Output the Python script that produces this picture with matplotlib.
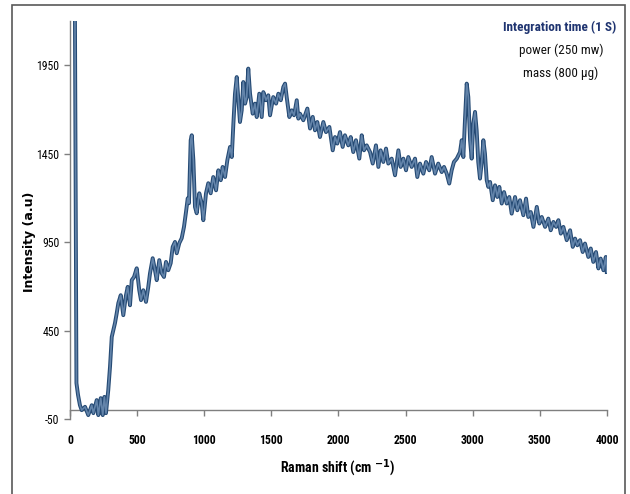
import matplotlib
matplotlib.use('Agg')
import matplotlib.pyplot as plt
from matplotlib import font_manager
from matplotlib.patches import Rectangle

plt.rcParams['axes.unicode_minus'] = False

# narrow font for tick labels and notes, fall back if missing
def pick_font(names):
    for n in names:
        try:
            font_manager.findfont(n, fallback_to_default=False)
            return n
        except Exception:
            pass
    return 'DejaVu Sans'

narrow = pick_font(['Liberation Sans Narrow', 'Roboto Condensed', 'DejaVu Sans Condensed', 'Liberation Sans'])

# Raman spectrum (shift in cm-1, intensity in a.u.)
shift = [37, 48, 60, 74, 87, 112, 136, 162, 174, 199, 211, 229, 244, 256, 268, 285,
         298, 311, 335, 348, 360, 378, 397, 417, 430, 447, 460, 477, 497, 516, 529, 546,
         566, 583, 596, 616, 633, 646, 665, 683, 700, 715, 732, 750, 765, 782, 795, 814,
         832, 849, 864, 877, 886, 899, 907, 919, 931, 944, 963, 981, 993, 1013, 1030, 1048,
         1067, 1088, 1105, 1123, 1137, 1155, 1172, 1192, 1205, 1217, 1229, 1242, 1254, 1266,
         1279, 1291, 1304, 1316, 1328, 1341, 1361, 1378, 1391, 1410, 1428, 1440, 1460, 1477,
         1490, 1514, 1535, 1552, 1570, 1589, 1602, 1614, 1634, 1652, 1669, 1689, 1701, 1713,
         1738, 1768, 1788, 1808, 1825, 1842, 1862, 1887, 1907, 1932, 1957, 1974, 1991, 2011,
         2031, 2048, 2073, 2091, 2110, 2130, 2155, 2173, 2190, 2210, 2235, 2255, 2279, 2297,
         2314, 2334, 2354, 2371, 2396, 2421, 2446, 2463, 2483, 2503, 2520, 2545, 2570, 2587,
         2607, 2632, 2652, 2676, 2694, 2719, 2743, 2769, 2786, 2806, 2825, 2843, 2860, 2881,
         2905, 2918, 2930, 2942, 2955, 2967, 2980, 2992, 3004, 3017, 3029, 3041, 3054, 3066,
         3079, 3091, 3104, 3116, 3129, 3149, 3166, 3183, 3198, 3216, 3233, 3253, 3272, 3290,
         3315, 3332, 3352, 3377, 3397, 3414, 3432, 3452, 3477, 3496, 3514, 3539, 3563, 3581,
         3601, 3621, 3638, 3656, 3675, 3700, 3725, 3745, 3762, 3779, 3799, 3819, 3836, 3861,
         3879, 3898, 3918, 3936, 3953, 3973, 3991, 3998]
intensity = [2200, 153, 85, 28, 0, 19, -28, 28, -17, 57, -28, 68, -28, 75, -17, 113,
             245, 414, 492, 548, 605, 650, 537, 650, 697, 593, 735, 753, 802, 678, 622, 678,
             612, 697, 774, 859, 791, 735, 848, 774, 753, 838, 791, 831, 923, 951, 887, 944,
             972, 1036, 1120, 1198, 1170, 1526, 1554, 1413, 1149, 1113, 1226, 1170, 1074, 1226, 1283, 1226,
             1318, 1243, 1356, 1300, 1375, 1318, 1413, 1488, 1431, 1620, 1789, 1883, 1752, 1629,
             1695, 1855, 1733, 1770, 1931, 1789, 1676, 1733, 1657, 1789, 1657, 1798, 1752, 1780,
             1667, 1770, 1733, 1789, 1752, 1827, 1846, 1770, 1657, 1695, 1667, 1752, 1648, 1676,
             1639, 1705, 1592, 1658, 1582, 1629, 1544, 1629, 1572, 1601, 1469, 1544, 1507, 1572,
             1488, 1554, 1497, 1544, 1459, 1526, 1422, 1554, 1469, 1497, 1459, 1394, 1497, 1375,
             1469, 1403, 1479, 1394, 1422, 1328, 1469, 1375, 1422, 1356, 1431, 1375, 1422, 1318,
             1394, 1337, 1403, 1356, 1431, 1337, 1394, 1346, 1375, 1337, 1281, 1356, 1403, 1422,
             1459, 1526, 1431, 1639, 1846, 1770, 1526, 1422, 1620, 1686, 1582, 1403, 1309, 1394,
             1526, 1450, 1300, 1262, 1290, 1187, 1271, 1205, 1262, 1168, 1233, 1168, 1205, 1111,
             1205, 1130, 1187, 1102, 1196, 1092, 1120, 1036, 1149, 1055, 1092, 1036, 1083, 1017,
             1064, 1036, 1074, 998, 1036, 961, 1017, 923, 970, 932, 961, 894, 942, 866,
             914, 838, 894, 801, 857, 791, 866, 781]

x_ticks = [0, 500, 1000, 1500, 2000, 2500, 3000, 3500, 4000]
y_ticks = [-50, 450, 950, 1450, 1950]

fig = plt.figure(figsize=(6.3, 4.94), dpi=100)
ax = fig.add_axes([70 / 630, 1 - 419 / 494, 537 / 630, 398 / 494])

# thick steel-blue trace with darker edges
ax.plot(shift, intensity, color='#254a74', lw=2.8, zorder=3)
ax.plot(shift, intensity, color='#6384aa', lw=1.2, zorder=4)

ax.set_xlim(0, 4000)
ax.set_ylim(-50, 2200)
ax.set_xticks(x_ticks)
ax.set_yticks(y_ticks)

ax.spines['top'].set_visible(False)
ax.spines['right'].set_visible(False)
ax.spines['bottom'].set_position(('data', 0))
for s in ('left', 'bottom'):
    ax.spines[s].set_color('#7f7f7f')
    ax.spines[s].set_linewidth(1.0)
ax.tick_params(direction='out', length=4, width=1, color='#7f7f7f')
ax.tick_params(axis='x', pad=13)

for lab in ax.get_xticklabels():
    lab.set_fontfamily(narrow)
    lab.set_fontsize(8.5)
    lab.set_fontweight('bold')
for lab in ax.get_yticklabels():
    lab.set_fontfamily(narrow)
    lab.set_fontsize(8.5)

fig.text(30 / 630, 1 - 242 / 494, 'Intensity (a.u)', rotation=90, ha='center', va='center',
         fontsize=9, fontweight='bold', family='DejaVu Sans')
fig.text(338 / 630, 1 - 468 / 494, 'Raman shift (cm $^{\\mathbf{-1}}$)', ha='center', va='center',
         fontsize=10, fontweight='bold', family=narrow)

fig.text(616 / 630, 1 - 27 / 494, 'Integration time (1 S)', ha='right', va='center',
         fontsize=9.5, fontweight='bold', color='#1f3470', family=narrow)
fig.text(561 / 630, 1 - 50 / 494, 'power (250 mw)', ha='center', va='center',
         fontsize=9.5, color='#111111', family=narrow)
fig.text(561 / 630, 1 - 73 / 494, 'mass (800 \u00b5g)', ha='center', va='center',
         fontsize=9.5, color='#111111', family=narrow)

# chart area border
fig.patches.append(Rectangle((12 / 630, -0.1), 613 / 630, 1.1 - 5 / 494,
                             transform=fig.transFigure, fill=False,
                             edgecolor='#595959', lw=1.2))

fig.savefig('out.png', dpi=100)
